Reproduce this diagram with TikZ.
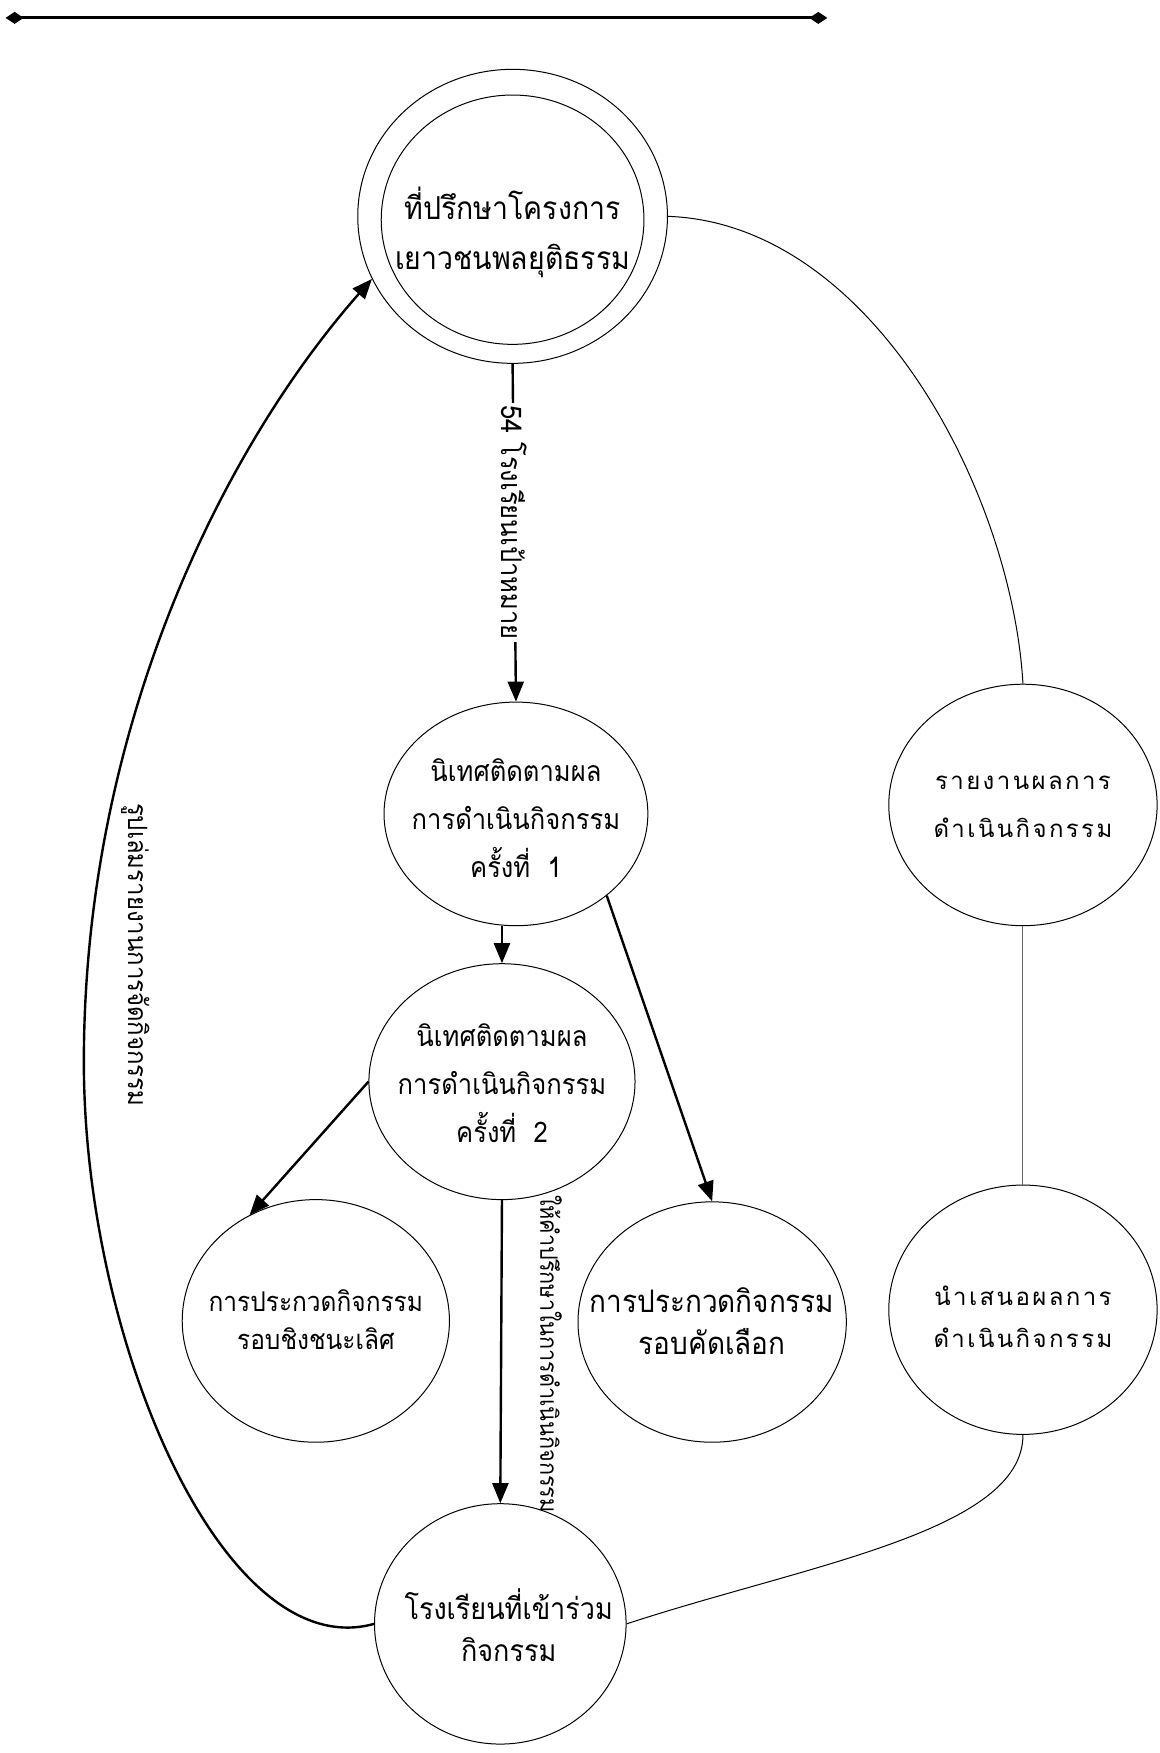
\documentclass[tikz,border=0pt]{standalone}
\usepackage{fontspec}
\newfontfamily\thai[Script=Thai,FakeStretch=0.9]{Loma}
\newfontfamily\thaisp[Script=Thai,LetterSpace=10]{Loma}
\usetikzlibrary{shapes.geometric,arrows.meta}
\begin{document}
\begin{tikzpicture}[x=0.55885pt,y=-0.55885pt,
  bubble/.style 2 args={draw, ellipse, inner sep=0pt, line width=0.5pt,
     minimum width=#1*0.55885pt, minimum height=#2*0.55885pt},
  txt/.style={align=center, inner sep=0pt},
  thickarrow/.style={line width=1.2pt, -{Triangle[length=10pt,width=8pt]}},
  thinline/.style={line width=0.5pt},
  vlabel/.style={rotate=-90, inner sep=1pt}
]
\useasboundingbox (0,0) rectangle (1037,1568);

% top line with diamonds
\coordinate (L1) at (5,16);
\coordinate (L2) at (740,16);
\draw[line width=1.6pt, {Diamond[length=9pt,width=6pt]}-{Diamond[length=9pt,width=6pt]}] (L1) -- (L2);

% nodes
\node[bubble={277}{263}] (topO) at (458.5,193.5) {};
\node[bubble={235}{223}] (topI) at (458.5,196.5) {};
\node[txt, font=\thai\fontsize{15.8}{25}\selectfont] (topT) at (458.5,208) {ที่ปรึกษาโครงการ\\เยาวชนพลยุติธรรม};

\node[bubble={236}{200}] (n1) at (461.5,728) {};
\node[txt, font=\thai\fontsize{14.2}{24}\selectfont] (n1T) at (461.5,732) {นิเทศติดตามผล\\การดำเนินกิจกรรม\\ครั้งที่\ \ 1};

\node[bubble={238}{211}] (n2) at (449,967.5) {};
\node[txt, font=\thai\fontsize{14.2}{24}\selectfont] (n2T) at (449,969) {นิเทศติดตามผล\\การดำเนินกิจกรรม\\ครั้งที่\ \ 2};

\node[bubble={239}{217}] (n3) at (282.5,1181.5) {};
\node[txt, font=\thai\fontsize{13.6}{19}\selectfont] (n3T) at (282.5,1180) {การประกวดกิจกรรม\\รอบชิงชนะเลิศ};

\node[bubble={240}{215}] (n4) at (637,1182.5) {};
\node[txt, font=\thai\fontsize{15.5}{21}\selectfont] (n4T) at (637,1182) {การประกวดกิจกรรม\\รอบคัดเลือก};

\node[bubble={240}{216}] (n5) at (915,720) {};
\node[txt, font=\thaisp\fontsize{12}{24}\selectfont] (n5T) at (915,722) {รายงานผลการ\\ดำเนินกิจกรรม};

\node[bubble={240}{223}] (n6) at (915,1171.5) {};
\node[txt, font=\thaisp\fontsize{12}{21}\selectfont] (n6T) at (915,1178) {นำเสนอผลการ\\ดำเนินกิจกรรม};

\node[bubble={225}{215}] (n7) at (447.5,1452.5) {};
\node[txt, font=\thai\fontsize{15}{21}\selectfont] (n7T) at (455,1454) {โรงเรียนที่เข้าร่วม\\กิจกรรม};

% connectors
\draw[thickarrow] (topO.south) -- node[pos=0.47, fill=white, vlabel, font=\thai\fontsize{14.2}{16}\selectfont] (lab1) {54 โรงเรียนเป้าหมาย} (n1.north);
\draw[thickarrow] (n2.north |- n1.south) -- (n2.north);
\draw[thickarrow] (n1.-42) -- (n4.north);
\draw[thickarrow] (n2.west) -- (n3.122);
\draw[thickarrow] (n2.south) -- (n7.north);
\node[vlabel, font=\thai\fontsize{12}{14}\selectfont] (lab2) at (493,1211) {ให้คำปรึกษาในการดำเนินกิจกรรม};

\draw[thickarrow] (n7.west) .. controls (200,1490) and (75,1200) .. (75,950)
   .. controls (75,650) and (200,400) .. (topO.204);
\node[vlabel, font=\thai\fontsize{13.3}{15}\selectfont] (lab3) at (121,854) {รูปเล่มรายงานการจัดกิจกรรม};

\draw[thinline] (topO.east) .. controls (780,200) and (905,440) .. (n5.north);
\draw[thinline, draw=black!60] (n5.south) -- (n6.north);
\draw[thinline] (n6.south) .. controls (915,1370) and (720,1400) .. (n7.east);
\end{tikzpicture}
\end{document}
